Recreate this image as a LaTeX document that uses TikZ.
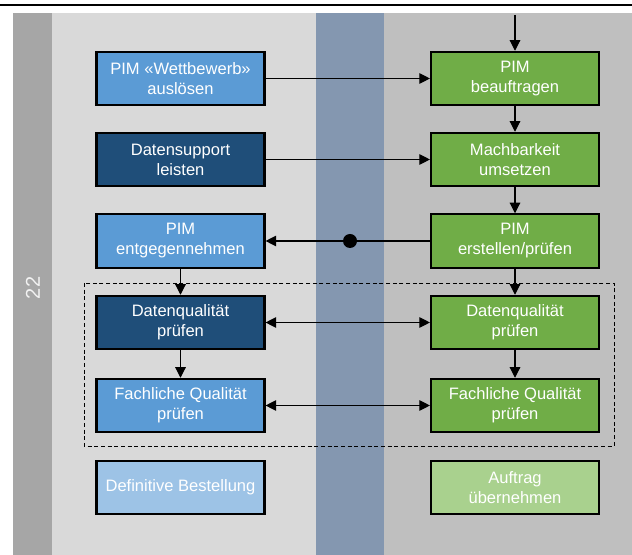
\documentclass[tikz,border=0pt]{standalone}
\usepackage{fontspec}
\setmainfont{Liberation Sans}
\usetikzlibrary{arrows.meta}
\definecolor{stripgray}{HTML}{A6A6A6}
\definecolor{lanelight}{HTML}{D9D9D9}
\definecolor{laneblue}{HTML}{8497B0}
\definecolor{lanegray}{HTML}{BFBFBF}
\definecolor{midblue}{HTML}{5B9BD5}
\definecolor{darkblue}{HTML}{1F4E79}
\definecolor{palblue}{HTML}{9DC3E6}
\definecolor{midgreen}{HTML}{70AD47}
\definecolor{palgreen}{HTML}{A9D18E}
\begin{document}
\begin{tikzpicture}[x=0.75pt,y=-0.75pt,
  box/.style={draw=black, line width=1.6pt, minimum width=126pt, minimum height=40pt,
    inner sep=0pt, align=center, text=white,
    font=\fontsize{12.4}{15}\selectfont},
  conn/.style={line width=0.8pt, -{Triangle[length=8pt,width=8pt]}},
  dconn/.style={line width=0.8pt, {Triangle[length=8pt,width=8pt]}-{Triangle[length=8pt,width=8pt]}},
  plain/.style={line width=0.8pt}
]
\useasboundingbox (0,0) rectangle (632,555);
\fill[white] (0,0) rectangle (632,555);
% backgrounds
\fill[stripgray] (13,13) rectangle (52,555);
\fill[lanelight] (52,13) rectangle (316,555);
\fill[laneblue] (316,13) rectangle (384,555);
\fill[lanegray] (384,13) rectangle (632,555);
\draw[line width=2pt] (0,5) -- (632,5);
\node[rotate=90, text=white!95!black, font=\fontsize{15}{18}\selectfont] (lbl) at (33,288) {22};
% dashed group
\draw[line width=0.7pt, dash pattern=on 3pt off 2pt] (84,283) rectangle (614,446);
% left column
\node[box, fill=midblue] (w1) at (180.5,78.5) {PIM «Wettbewerb»\\auslösen};
\node[box, fill=darkblue] (d1) at (180.5,159.5) {Datensupport\\leisten};
\node[box, fill=midblue] (e1) at (180.5,241) {PIM\\entgegennehmen};
\node[box, fill=darkblue] (q1) at (180.5,322.5) {Datenqualität\\prüfen};
\node[box, fill=midblue] (f1) at (180.5,405.5) {Fachliche Qualität\\prüfen};
\node[box, fill=palblue] (b1) at (180.5,487.5) {Definitive Bestellung};
% right column
\node[box, fill=midgreen] (p2) at (515,78.5) {PIM\\beauftragen};
\node[box, fill=midgreen] (m2) at (515,159.5) {Machbarkeit\\umsetzen};
\node[box, fill=midgreen] (c2) at (515,241) {PIM\\erstellen/prüfen};
\node[box, fill=midgreen] (q2) at (515,322.5) {Datenqualität\\prüfen};
\node[box, fill=midgreen] (f2) at (515,405.5) {Fachliche Qualität\\prüfen};
\node[box, fill=palgreen] (a2) at (515,487.5) {Auftrag\\übernehmen};
% connectors
\coordinate (top) at (515,15);
\draw[conn] (top) -- (p2.north);
\draw[conn] (w1.east) -- (p2.west);
\draw[conn] (d1.east) -- (m2.west);
\draw[conn] (p2.south) -- (m2.north);
\draw[conn] (m2.south) -- (c2.north);
\node[circle, fill=black, inner sep=0pt, minimum size=10.5pt] (dot) at (350,241) {};
\draw[plain] (c2.west) -- (dot);
\draw[conn] (dot) -- (e1.east);
\draw[conn] (e1.south) -- (q1.north);
\draw[conn] (c2.south) -- (q2.north);
\draw[conn] (q1.south) -- (f1.north);
\draw[conn] (q2.south) -- (f2.north);
\draw[dconn] (q1.east) -- (q2.west);
\draw[dconn] (f1.east) -- (f2.west);
\end{tikzpicture}
\end{document}
